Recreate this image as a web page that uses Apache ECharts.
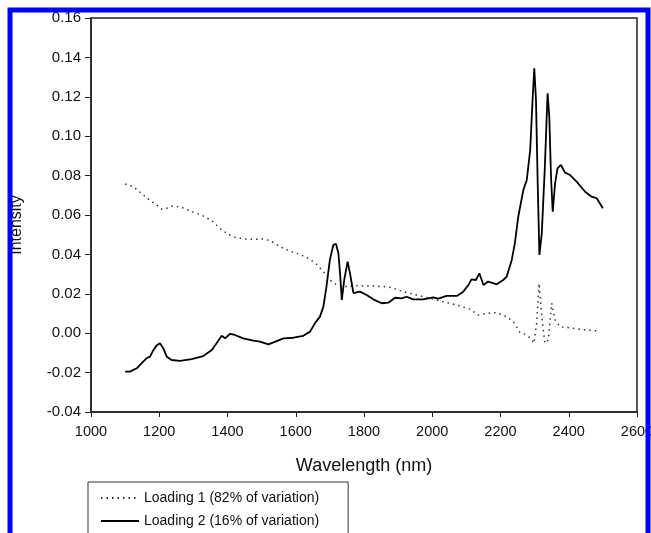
<!DOCTYPE html>
<html>
<head>
<meta charset="utf-8">
<script src="https://cdn.jsdelivr.net/npm/echarts@6/dist/echarts.min.js"></script>
<style>
  html, body { margin: 0; padding: 0; background: #fff; }
  #chart { width: 651px; height: 533px; }
</style>
</head>
<body>
<div id="chart"></div>
<script>
// wavelength (nm) / intensity
var wl1 = [1100,1124,1153,1178,1192,1207,1222,1241,1266,1295,1324,1354,1378,1402,1422,1451,1471,1505,1525,1554,1583,1612,1642,1661,1681,1700,1720,1739,1778,1818,1866,1881,1915,1954,1993,2032,2072,2111,2135,2160,2189,2218,2238,2257,2277,2290,2298,2306,2313,2321,2330,2340,2350,2360,2374,2413,2453,2490];
var loading1 = [0.0757,0.0744,0.0702,0.0667,0.0651,0.0630,0.0634,0.0647,0.0639,0.0617,0.0600,0.0571,0.0532,0.0502,0.0487,0.0478,0.0477,0.0478,0.0470,0.0439,0.0417,0.0400,0.0375,0.0350,0.0312,0.0270,0.0245,0.0236,0.0241,0.0240,0.0236,0.0231,0.0211,0.0194,0.0177,0.0160,0.0143,0.0121,0.0092,0.0101,0.0104,0.0084,0.0058,0.0004,-0.0009,-0.0030,-0.0051,0.0050,0.0253,0.0084,-0.0051,-0.0035,0.0152,0.0067,0.0033,0.0025,0.0016,0.0011];

var wl2 = [1100,1114,1134,1148,1163,1173,1183,1192,1202,1212,1222,1236,1261,1295,1329,1354,1368,1383,1393,1407,1422,1446,1476,1495,1520,1544,1564,1593,1622,1642,1656,1671,1681,1690,1700,1710,1718,1725,1730,1735,1742,1752,1759,1769,1788,1808,1827,1852,1871,1891,1910,1925,1944,1974,2003,2018,2042,2072,2091,2106,2115,2128,2138,2150,2164,2189,2208,2218,2233,2242,2252,2267,2277,2287,2294,2299,2304,2309,2314,2321,2330,2338,2343,2348,2353,2360,2367,2377,2389,2404,2423,2448,2467,2482,2500];
var loading2 = [-0.0195,-0.0195,-0.0178,-0.0153,-0.0127,-0.0119,-0.0085,-0.0063,-0.0051,-0.0077,-0.0119,-0.0136,-0.0140,-0.0132,-0.0116,-0.0085,-0.0051,-0.0013,-0.0026,-0.0004,-0.0009,-0.0026,-0.0038,-0.0043,-0.0057,-0.0040,-0.0026,-0.0023,-0.0013,0.0008,0.0050,0.0084,0.0135,0.0236,0.0372,0.0448,0.0453,0.0406,0.0300,0.0169,0.0270,0.0363,0.0304,0.0203,0.0211,0.0194,0.0172,0.0152,0.0155,0.0180,0.0177,0.0185,0.0172,0.0172,0.0182,0.0175,0.0189,0.0189,0.0211,0.0245,0.0273,0.0270,0.0304,0.0245,0.0262,0.0248,0.0270,0.0287,0.0372,0.0456,0.0591,0.0727,0.0778,0.0930,0.1184,0.1345,0.1184,0.0761,0.0397,0.0507,0.0845,0.1218,0.1099,0.0794,0.0617,0.0761,0.0837,0.0854,0.0815,0.0803,0.0769,0.0718,0.0693,0.0685,0.0634];

var seriesNames = ['Loading 1 (82% of variation)', 'Loading 2 (16% of variation)'];

function pairs(xs, ys) {
  var out = [];
  for (var i = 0; i < xs.length; i++) out.push([xs[i], ys[i]]);
  return out;
}

var chart = echarts.init(document.getElementById('chart'));
var font = '"Liberation Sans", Arial, sans-serif';

chart.setOption({
  backgroundColor: '#fff',
  animation: false,
  grid: {
    left: 91, right: 14, top: 18, bottom: 121,
    outerBoundsMode: 'none',
    show: true, borderColor: '#222', borderWidth: 1.5
  },
  xAxis: {
    type: 'value',
    min: 1000, max: 2600, interval: 200,
    name: 'Wavelength (nm)',
    nameLocation: 'middle',
    nameGap: 45,
    nameTextStyle: { fontFamily: font, fontSize: 18, color: '#111' },
    axisLine: { onZero: false, lineStyle: { color: '#222', width: 1.5 } },
    axisTick: { inside: false, length: 5, lineStyle: { color: '#222' } },
    axisLabel: {
      margin: 12, fontFamily: font, fontSize: 14.5, color: '#111',
      formatter: function (v) { return String(v); }
    },
    splitLine: { show: false }
  },
  yAxis: {
    type: 'value',
    min: -0.04, max: 0.16, interval: 0.02,
    name: 'Intensity',
    nameLocation: 'middle',
    nameGap: 66,
    nameTextStyle: { fontFamily: font, fontSize: 16, color: '#111', padding: [0, 20, 0, 0] },
    axisLine: { show: true, onZero: false, lineStyle: { color: '#222', width: 1.5 } },
    axisTick: { show: true, inside: false, length: 6, lineStyle: { color: '#222' } },
    axisLabel: {
      margin: 10, fontFamily: font, fontSize: 15, color: '#111',
      formatter: function (v) { return v.toFixed(2); }
    },
    splitLine: { show: false }
  },
  legend: {
    orient: 'horizontal',
    left: 88, top: 482,
    width: 236,
    data: seriesNames,
    borderColor: '#333', borderWidth: 1,
    padding: [9, 29, 30, 12],
    itemWidth: 38, itemHeight: 10, itemGap: 9,
    itemStyle: { color: 'rgba(0,0,0,0)', borderWidth: 0 },
    textStyle: { fontFamily: font, fontSize: 14, color: '#111' }
  },
  series: [
    {
      name: seriesNames[0],
      type: 'line',
      data: pairs(wl1, loading1),
      symbol: 'none',
      lineStyle: { color: '#333', width: 1.5, type: [1.5, 4] },
      itemStyle: { color: '#333' }
    },
    {
      name: seriesNames[1],
      type: 'line',
      data: pairs(wl2, loading2),
      symbol: 'none',
      lineStyle: { color: '#000', width: 1.8 },
      itemStyle: { color: '#000' }
    }
  ],
  graphic: [
    {
      type: 'rect', z: 100, silent: true,
      shape: { x: 10, y: 10, width: 638, height: 600 },
      style: { fill: null, stroke: '#0000ff', lineWidth: 5 }
    }
  ]
});
</script>
</body>
</html>
